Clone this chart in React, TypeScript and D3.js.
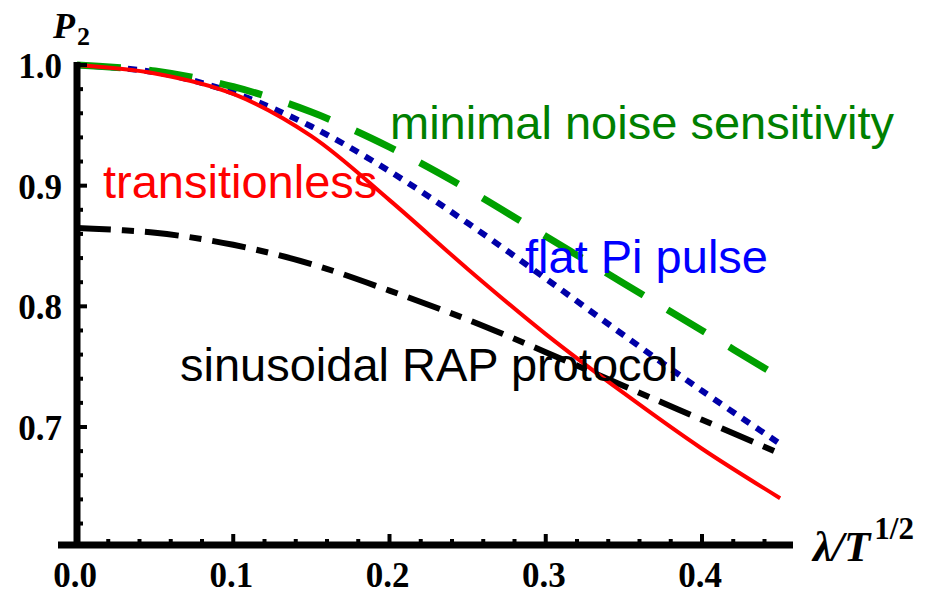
import React from "react";
import * as d3 from "d3";

const xs = [0, 0.05, 0.1, 0.15, 0.2, 0.25, 0.3, 0.35, 0.4, 0.45];
const transitionless = [1.0, 0.993, 0.976, 0.941, 0.888, 0.831, 0.777, 0.728, 0.682, 0.641];
const minimalNoise = [1.0, 0.995, 0.982, 0.961, 0.932, 0.897, 0.858, 0.819, 0.78, 0.741];
const flatPi = [1.0, 0.994, 0.977, 0.949, 0.912, 0.869, 0.823, 0.776, 0.73, 0.686];
const sinusoidalRAP = [0.865, 0.861, 0.851, 0.835, 0.813, 0.789, 0.762, 0.734, 0.706, 0.678];

const xTickLabels = ["0.0", "0.1", "0.2", "0.3", "0.4"];
const yTickLabels = ["0.7", "0.8", "0.9", "1.0"];

const W = 930;
const H = 595;

export default function App() {
  const x = d3.scaleLinear().domain([0, 0.4]).range([77, 702]);
  const y = d3.scaleLinear().domain([0.7, 1.0]).range([427, 65]);
  const yBottom = 545;
  const xEnd = 793;

  const line = d3
    .line<number>()
    .x((_, i) => x(xs[i]))
    .y((d) => y(d))
    .curve(d3.curveCatmullRom.alpha(0.5));

  const xMinor = d3.range(0, 0.4501, 0.02);
  const yMinor = d3.range(0.62, 1.0001, 0.02);

  const tickFont = "'Liberation Serif', 'Times New Roman', serif";
  const textFont = "'Liberation Sans', Arial, sans-serif";

  return (
    <svg
      width={W}
      height={H}
      style={{ position: "absolute", left: 0, top: 0, background: "#fff" }}
    >
      <rect x={0} y={0} width={W} height={H} fill="#fff" />
      {/* curves */}
      <path d={line(sinusoidalRAP) || ""} fill="none" stroke="#000" strokeWidth={6}
        strokeDasharray="34 11 12 11" />
      <path d={line(flatPi) || ""} fill="none" stroke="#0000a8" strokeWidth={6}
        strokeDasharray="9 8" />
      <path d={line(minimalNoise) || ""} fill="none" stroke="#00a000" strokeWidth={7}
        strokeDasharray="44 28" />
      <path d={line(transitionless) || ""} fill="none" stroke="#ff0000" strokeWidth={4} />

      {/* axes */}
      <line x1={58} x2={xEnd} y1={yBottom} y2={yBottom} stroke="#000" strokeWidth={7} />
      <line x1={x(0)} x2={x(0)} y1={62} y2={yBottom + 3} stroke="#000" strokeWidth={7} />
      {xMinor.map((v, i) => {
        const major = Math.abs((v * 10) - Math.round(v * 10)) < 1e-6;
        return (
          <line key={"xm" + i} x1={x(v)} x2={x(v)} y1={yBottom}
            y2={yBottom - (major ? 11 : 6)} stroke="#000" strokeWidth={4} />
        );
      })}
      {yMinor.map((v, i) => {
        const major = Math.abs((v * 10) - Math.round(v * 10)) < 1e-6;
        return (
          <line key={"ym" + i} x1={x(0)} x2={x(0) + (major ? 10 : 6)} y1={y(v)}
            y2={y(v)} stroke="#000" strokeWidth={4} />
        );
      })}

      {/* tick labels */}
      {xTickLabels.map((t) => (
        <text key={"xt" + t} x={x(+t) - 2} y={587} textAnchor="middle"
          fontFamily={tickFont} fontWeight="bold" fontSize={35} fill="#000">{t}</text>
      ))}
      {yTickLabels.map((t) => (
        <text key={"yt" + t} x={62} y={y(+t) + 13} textAnchor="end"
          fontFamily={tickFont} fontWeight="bold" fontSize={35} fill="#000">{t}</text>
      ))}

      {/* axis labels */}
      <text x={53} y={38} fontFamily={tickFont} fontWeight="bold" fill="#000">
        <tspan fontStyle="italic" fontSize={36}>P</tspan>
        <tspan fontSize={26} dx={2} dy={7}>2</tspan>
      </text>
      <text x={813} y={561} fontFamily={tickFont} fontWeight="bold" fill="#000">
        <tspan fontStyle="italic" fontSize={43}>λ/T</tspan>
        <tspan fontSize={31} dx={4} dy={-22}>1/2</tspan>
      </text>

      {/* annotations */}
      <text x={390} y={139} fontFamily={textFont} fontSize={47} fill="#008000">
        minimal noise sensitivity
      </text>
      <text x={103} y={198} fontFamily={textFont} fontSize={47} fill="#ff0000">
        transitionless
      </text>
      <text x={525} y={273} fontFamily={textFont} fontSize={47} fill="#0000ff">
        flat Pi pulse
      </text>
      <text x={180} y={381} fontFamily={textFont} fontSize={47} fill="#000">
        sinusoidal RAP protocol
      </text>
    </svg>
  );
}
